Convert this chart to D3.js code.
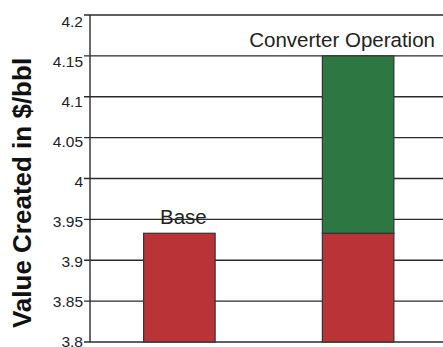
<!DOCTYPE html>
<html>
<head>
<meta charset="utf-8">
<script src="https://cdn.jsdelivr.net/npm/d3@7"></script>
<style>
  html, body { margin: 0; padding: 0; background: #fff; }
  svg { display: block; font-family: "Liberation Sans", Arial, sans-serif; }
</style>
</head>
<body>
<svg id="chart" width="443" height="347"></svg>
<script>
// Categories and stacked components (value created, $/bbl)
const categories = ["Base", "Converter Operation"];
const baseValues = [3.933, 3.933];
const gainValues = [0, 0.217];
const tickValues = [3.8, 3.85, 3.9, 3.95, 4.0, 4.05, 4.1, 4.15, 4.2];
const tickLabels = ["3.8", "3.85", "3.9", "3.95", "4", "4.05", "4.1", "4.15", "4.2"];
const axisTitle = "Value Created in $/bbl";

(function () {
  const svg = d3.select("#chart");
  const W = 443;
  const plotLeft = 90, plotTop = 15, plotBottom = 342;
  const yMin = 3.8, yMax = 4.2;

  const y = d3.scaleLinear().domain([yMin, yMax]).range([plotBottom, plotTop]);
  // tick labels sit on a slightly tighter spacing than the grid
  const yLabel = d3.scaleLinear().domain([yMin, yMax]).range([346.7, 26.7]);

  const x = d3.scaleBand()
    .domain(categories)
    .range([plotLeft, 447.5])
    .paddingInner(0.6)
    .paddingOuter(0.3);

  const ink = "#2b2b2b";

  // grid lines with short tick stubs to the left of the axis
  svg.append("g")
    .selectAll("line")
    .data(tickValues)
    .join("line")
    .attr("x1", plotLeft - 6)
    .attr("x2", W)
    .attr("y1", d => y(d))
    .attr("y2", d => y(d))
    .attr("stroke", ink)
    .attr("stroke-width", 1.4);

  // tick labels
  svg.append("g")
    .selectAll("text")
    .data(tickValues)
    .join("text")
    .attr("x", plotLeft - 7)
    .attr("y", d => yLabel(d))
    .attr("text-anchor", "end")
    .attr("font-size", 15.5)
    .attr("fill", "#222")
    .text((d, i) => tickLabels[i]);

  // vertical axis line
  svg.append("line")
    .attr("x1", plotLeft).attr("x2", plotLeft)
    .attr("y1", plotTop).attr("y2", plotBottom)
    .attr("stroke", ink)
    .attr("stroke-width", 1.4);

  // stacked segments: base (red) from the axis floor, converter gain (green) on top
  const segments = [];
  categories.forEach((c, i) => {
    segments.push({ c, lo: yMin, hi: baseValues[i], color: "#ba3336" });
    if (gainValues[i] > 0) {
      segments.push({ c, lo: baseValues[i], hi: baseValues[i] + gainValues[i], color: "#2d7842" });
    }
  });

  svg.append("g")
    .selectAll("rect")
    .data(segments)
    .join("rect")
    .attr("x", d => x(d.c))
    .attr("width", x.bandwidth())
    .attr("y", d => y(d.hi))
    .attr("height", d => y(d.lo) - y(d.hi))
    .attr("fill", d => d.color)
    .attr("stroke", "#333")
    .attr("stroke-width", 1.2);

  // category labels above each bar
  const totals = categories.map((c, i) => baseValues[i] + gainValues[i]);
  const labelShift = [4, -16];
  svg.append("g")
    .selectAll("text")
    .data(categories)
    .join("text")
    .attr("x", (d, i) => x(d) + x.bandwidth() / 2 + labelShift[i])
    .attr("y", (d, i) => y(totals[i]) - 9)
    .attr("text-anchor", "middle")
    .attr("font-size", 20.5)
    .attr("fill", "#222")
    .text(d => d);

  // vertical axis title
  svg.append("text")
    .attr("transform", "translate(30.5,193) rotate(-90)")
    .attr("text-anchor", "middle")
    .attr("font-size", 26)
    .attr("font-weight", "bold")
    .attr("fill", "#111")
    .text(axisTitle);
})();
</script>
</body>
</html>
